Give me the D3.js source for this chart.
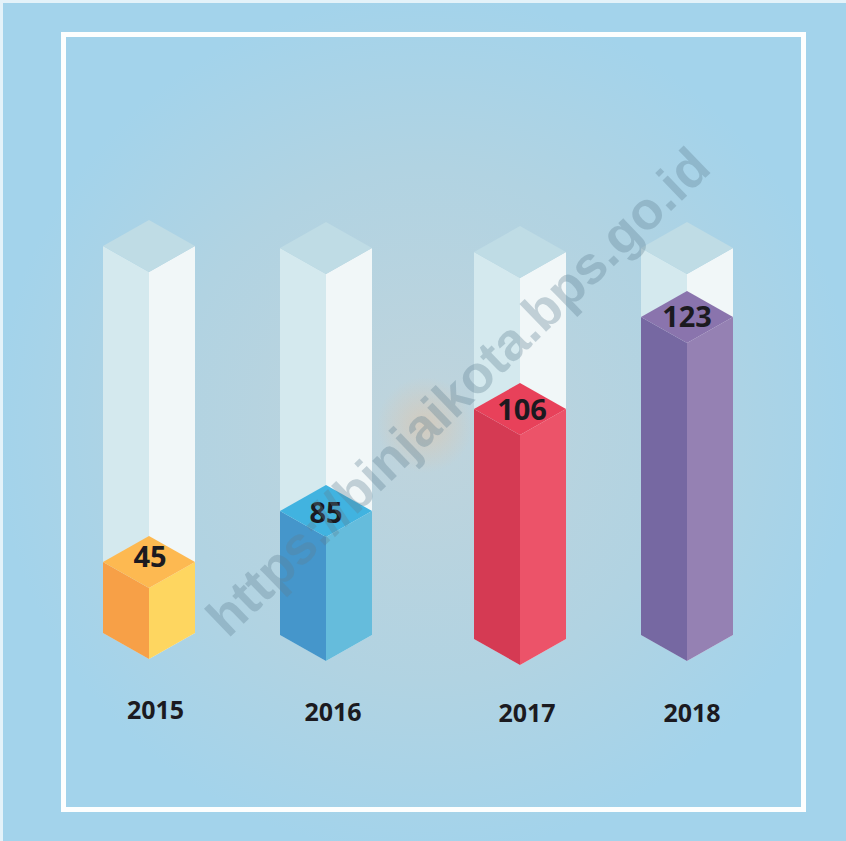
<!DOCTYPE html>
<html>
<head>
<meta charset="utf-8">
<script src="https://cdn.jsdelivr.net/npm/d3@7"></script>
<style>
    html, body {margin: 0; padding: 0; background: #e4f2f9;}
    svg {display: block;}
</style>
</head>
<body>
<div id="chart"></div>
<script>
// values as printed on the columns
const years = ["2015", "2016", "2017", "2018"];
const values = [45, 85, 106, 123];
const watermark = "https://binjaikota.bps.go.id";

const width = 846, height = 841;
const halfWidth = 46, depth = 26, glassHeight = 387;

// columns are not evenly spaced and don't sit on one baseline in the original
const x = d3.scaleOrdinal().domain(years).range([149, 326, 520, 687]);
const base = d3.scaleOrdinal().domain(years).range([659, 661, 665, 661]);
const labelX = d3.scaleOrdinal().domain(years).range([155.5, 333, 527, 692]);
const labelY = d3.scaleOrdinal().domain(years).range([719, 721, 722, 722]);
const valueDx = d3.scaleOrdinal().domain(years).range([1, 0, 2, 0]);
const valueDy = d3.scaleOrdinal().domain(years).range([5, 12, 11, 10]);

// the picture isn't drawn to scale, so this has to be piecewise
const h = d3.scaleLinear().domain(values).range([71, 124, 230, 318]);

const colors = {
    left: d3.scaleOrdinal().domain(years).range(["#f7a047", "#4596cb", "#d53a53", "#7668a2"]),
    right: d3.scaleOrdinal().domain(years).range(["#fed660", "#65bcdc", "#ec5369", "#9581b3"]),
    top: d3.scaleOrdinal().domain(years).range(["#fdb951", "#41b3e0", "#e8415a", "#8a74ad"])
};

const svg = d3.select("#chart").append("svg")
    .attr("width", width)
    .attr("height", height);

const defs = svg.append("defs");

const bg = defs.append("radialGradient")
    .attr("id", "bg")
    .attr("gradientUnits", "userSpaceOnUse")
    .attr("cx", 425).attr("cy", 425).attr("r", 430);
bg.append("stop").attr("offset", "0").attr("stop-color", "#c0d4dc");
bg.append("stop").attr("offset", "0.6").attr("stop-color", "#b1d3e2");
bg.append("stop").attr("offset", "1").attr("stop-color", "#a3d3eb");

const glow = defs.append("radialGradient").attr("id", "glow");
glow.append("stop").attr("offset", "0").attr("stop-color", "#f0bd90").attr("stop-opacity", 0.4);
glow.append("stop").attr("offset", "1").attr("stop-color", "#f0bd90").attr("stop-opacity", 0);

svg.append("rect")
    .attr("x", 3).attr("y", 3)
    .attr("width", width - 3).attr("height", height - 3)
    .attr("fill", "url(#bg)");

svg.append("circle")
    .attr("cx", 425).attr("cy", 425).attr("r", 48)
    .attr("fill", "url(#glow)");

svg.append("rect")
    .attr("x", 63.5).attr("y", 34.5)
    .attr("width", 740).attr("height", 775)
    .attr("fill", "none")
    .attr("stroke", "#fdfefe")
    .attr("stroke-width", 5);

const line = d3.line().curve(d3.curveLinearClosed);

// box faces for a column rising `rise` px above its bottom tip
function faces(d, rise) {
    let cx = x(d), b = base(d), y = b - rise;
    return {
        left: [[cx - halfWidth, b - depth], [cx, b], [cx, y], [cx - halfWidth, y - depth]],
        right: [[cx, b], [cx + halfWidth, b - depth], [cx + halfWidth, y - depth], [cx, y]],
        top: [[cx, y], [cx - halfWidth, y - depth], [cx, y - 2 * depth], [cx + halfWidth, y - depth]]
    };
}

const columns = svg.selectAll(".column")
    .data(years)
    .join("g")
    .attr("class", "column");

// glass tube first, coloured part on top of it
columns.append("path").attr("d", d => line(faces(d, glassHeight).left)).attr("fill", "#d4e9ee");
columns.append("path").attr("d", d => line(faces(d, glassHeight).right)).attr("fill", "#f1f7f8");
columns.append("path").attr("d", d => line(faces(d, glassHeight).top)).attr("fill", "#bfdce5");

columns.append("path")
    .attr("d", (d, i) => line(faces(d, h(values[i])).left))
    .attr("fill", d => colors.left(d));
columns.append("path")
    .attr("d", (d, i) => line(faces(d, h(values[i])).right))
    .attr("fill", d => colors.right(d));
columns.append("path")
    .attr("d", (d, i) => line(faces(d, h(values[i])).top))
    .attr("fill", d => colors.top(d));

columns.append("text")
    .attr("x", d => x(d) + valueDx(d))
    .attr("y", (d, i) => base(d) - h(values[i]) - depth + valueDy(d))
    .attr("text-anchor", "middle")
    .attr("font-family", "'Open Sans', sans-serif")
    .attr("font-weight", 700)
    .attr("font-size", 29)
    .attr("fill", "#1b1a20")
    .text((d, i) => values[i]);

columns.append("text")
    .attr("x", d => labelX(d))
    .attr("y", d => labelY(d))
    .attr("text-anchor", "middle")
    .attr("font-family", "'Open Sans', sans-serif")
    .attr("font-weight", 700)
    .attr("font-size", 25)
    .attr("fill", "#1b1a20")
    .text(d => d);

svg.append("text")
    .attr("transform", "translate(228,639) rotate(-44)")
    .attr("font-family", "'Liberation Sans', Arial, sans-serif")
    .attr("font-weight", 700)
    .attr("font-size", 53)
    .attr("fill", "#5f7f92")
    .attr("fill-opacity", 0.33)
    .text(watermark);
</script>
</body>
</html>
